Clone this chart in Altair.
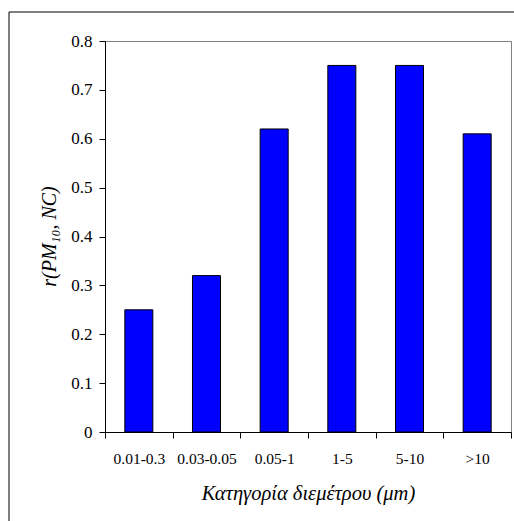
import altair as alt
import pandas as pd

categories = ["0.01-0.3", "0.03-0.05", "0.05-1", "1-5", "5-10", ">10"]
values = [0.25, 0.32, 0.62, 0.75, 0.75, 0.61]
y_ticks = [0, 0.1, 0.2, 0.3, 0.4, 0.5, 0.6, 0.7, 0.8]

df = pd.DataFrame({"cat": categories, "val": values})

FONT = "'Times New Roman', 'Liberation Serif', serif"

frame = alt.Chart(pd.DataFrame({"a": [0]})).mark_rect(
    fillOpacity=0, stroke="black", strokeWidth=1
).encode(
    x=alt.value(-96), x2=alt.value(415), y=alt.value(-29), y2=alt.value(489)
)

bars = alt.Chart(df).mark_bar(
    color="#0000FF", stroke="black", strokeWidth=1,
    width=alt.RelativeBandSize(0.414)
).encode(
    x=alt.X("cat:N", sort=categories,
            scale=alt.Scale(paddingInner=0, paddingOuter=0),
            axis=alt.Axis(title="Κατηγορία διεμέτρου (μm)", labelAngle=0,
                          tickBand="extent", tickSize=6, labelPadding=13,
                          labelFontSize=15.5, labelFont=FONT, labelColor="black",
                          titleFont=FONT, titleFontSize=20.5, titleFontStyle="italic",
                          titleFontWeight="normal", titleColor="black",
                          titleY=51, titleBaseline="top",
                          domainColor="black", tickColor="black")),
    y=alt.Y("val:Q", scale=alt.Scale(domain=[0, 0.8]),
            axis=alt.Axis(values=y_ticks, format=".1~f", title="r(PM₁₀, NC)",
                          tickSize=6, labelPadding=7, labelFontSize=17,
                          labelFont=FONT, labelColor="black", grid=False,
                          titleFont=FONT, titleFontSize=20, titleFontStyle="italic",
                          titleFontWeight="normal", titleColor="black",
                          titleX=-56, titleY=195, titleAngle=270,
                          titleBaseline="middle", titleAlign="center",
                          domainColor="black", tickColor="black"))
)

chart = alt.layer(frame, bars).properties(
    width=406, height=391,
    autosize=alt.AutoSizeParams(type="none"),
    padding={"left": 105, "top": 41, "right": 3, "bottom": 90},
    background="white"
).configure_view(stroke="#808080", strokeWidth=1)

chart.save("out.html", embed_options={"renderer": "svg", "actions": False})
